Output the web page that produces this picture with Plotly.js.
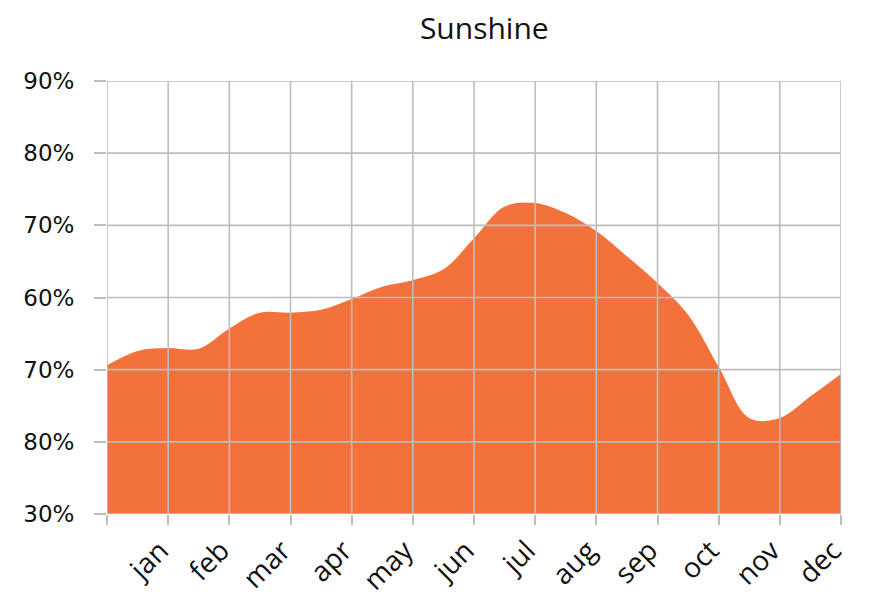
<!DOCTYPE html>
<html>
<head>
<meta charset="utf-8">
<script src="https://cdn.plot.ly/plotly-3.0.1.min.js"></script>
<style>html,body{margin:0;padding:0;background:#fff;}#chart{width:889px;height:597px;}</style>
</head>
<body>
<div id="chart"></div>
<script>
// Sampled positions (grid units: 0 = start, 1 = jan ... 12 = dec)
const xPos = [0,0.5,1,1.5,2,2.5,3,3.5,4,4.5,5,5.5,6,6.5,7,7.5,8,8.5,9,9.5,10,10.5,11,11.5,12];
const sunshine = [50.6,52.6,53.0,52.9,55.7,57.9,57.9,58.3,59.8,61.5,62.4,63.9,68.2,72.6,73.1,71.7,69.2,65.7,62.0,57.6,50.4,43.3,43.3,46.3,49.4];
const monthTickVals = [0,1,2,3,4,5,6,7,8,9,10,11,12];
const monthLabels = ['', 'jan','feb','mar','apr','may','jun','jul','aug','sep','oct','nov','dec'];
const yTickVals = [30,40,50,60,70,80,90];
const yTickLabels = ['30%','80%','70%','60%','70%','80%','90%'];

const gridColor = '#bdbdbd';
const gridW = 1.6;

const trace = {
  x: xPos, y: sunshine, type: 'scatter', mode: 'lines',
  line: {shape: 'spline', smoothing: 1, width: 0, color: '#f3723b'},
  fill: 'tozeroy', fillcolor: '#f3723b', hoverinfo: 'skip'
};

// grid lines drawn above the filled area, positioned through the axes
const shapes = [];
monthTickVals.forEach(v => shapes.push({type: 'line', layer: 'above', xref: 'x', yref: 'paper',
  x0: v, x1: v, y0: 0, y1: 1, line: {color: gridColor, width: gridW}}));
yTickVals.forEach(v => shapes.push({type: 'line', layer: 'above', xref: 'paper', yref: 'y',
  x0: 0, x1: 1, y0: v, y1: v, line: {color: gridColor, width: gridW}}));

const layout = {
  width: 889, height: 597,
  margin: {l: 107, r: 48, t: 81, b: 83},
  paper_bgcolor: '#fff', plot_bgcolor: '#fff',
  showlegend: false,
  shapes: shapes,
  title: {text: 'Sunshine', font: {family: 'Open Sans, sans-serif', size: 30, color: '#111'},
          xref: 'paper', x: 0.514, xanchor: 'center', yref: 'container', y: 0.953, yanchor: 'middle'},
  xaxis: {
    range: [0, 12], tickmode: 'array', tickvals: monthTickVals, ticktext: monthLabels,
    tickangle: -45, ticks: 'outside', ticklen: 10, tickwidth: 2, tickcolor: gridColor,
    showgrid: false, zeroline: false, showline: false,
    tickfont: {family: 'Open Sans, sans-serif', size: 28, color: '#111'},
    ticklabelstandoff: -2, ticklabelshift: -8,
    fixedrange: true
  },
  yaxis: {
    range: [30, 90], tickmode: 'array', tickvals: yTickVals, ticktext: yTickLabels,
    ticks: 'outside', ticklen: 12, tickwidth: 2, tickcolor: gridColor,
    showgrid: false, zeroline: false, showline: false,
    tickfont: {family: 'DejaVu Sans, sans-serif', size: 23, color: '#111'}, ticklabelstandoff: 15,
    fixedrange: true
  }
};

Plotly.newPlot('chart', [trace], layout, {staticPlot: true, displayModeBar: false});
</script>
</body>
</html>
